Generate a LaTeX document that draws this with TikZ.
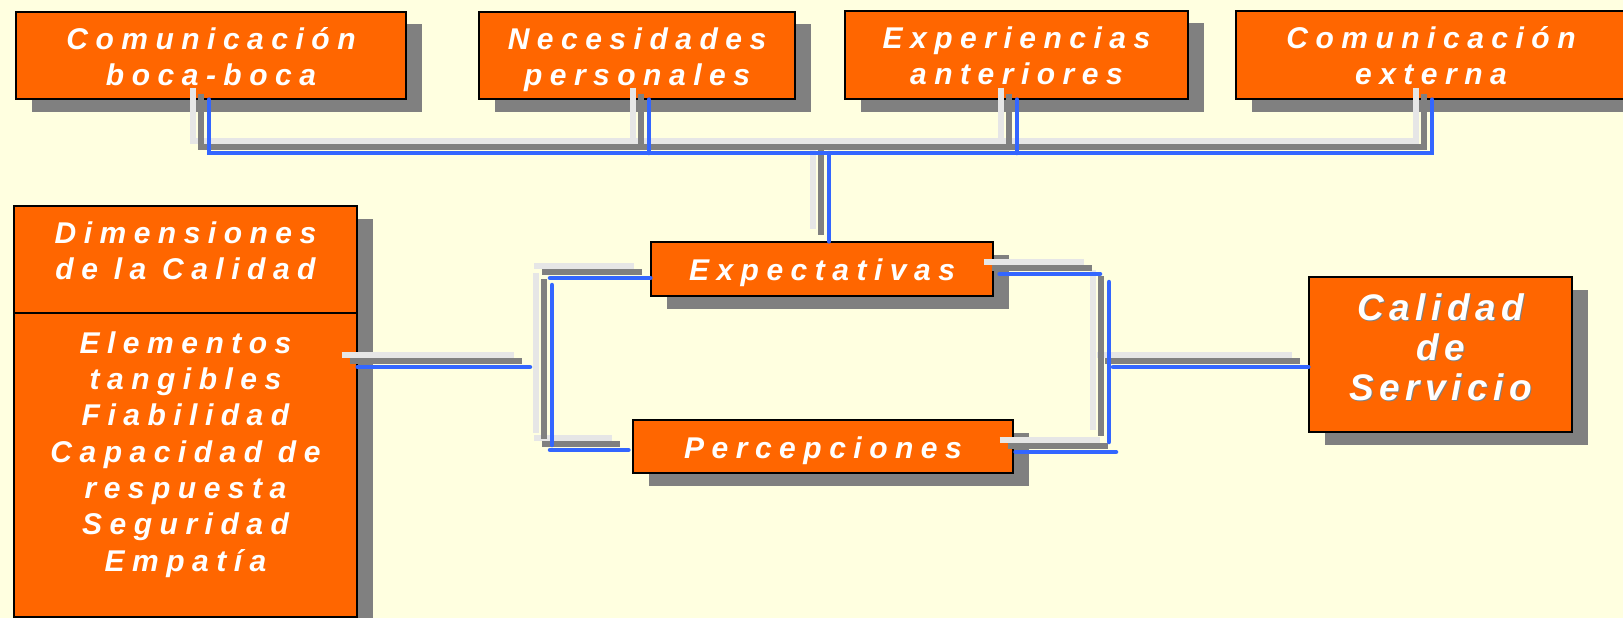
\documentclass[tikz,border=0pt]{standalone}
\usepackage{fontspec}
\usetikzlibrary{shadows}
\newfontfamily\boxfont{Liberation Sans}[LetterSpace=25]
\newfontfamily\calfont{Liberation Sans}[LetterSpace=15]
\definecolor{bgc}{HTML}{FFFFE0}
\definecolor{boxo}{HTML}{FF6600}
\definecolor{shad}{HTML}{808080}
\definecolor{lgc}{HTML}{E6E6E6}
\definecolor{blc}{HTML}{3366FF}
\newcommand\lnA{\rule{0pt}{30pt}}
\newcommand\lnB{\rule{0pt}{37pt}}
\begin{document}
\begin{tikzpicture}[x=1pt,y=-1pt,
  box/.style={draw=black, line width=1.2pt, fill=boxo, rectangle, inner sep=0pt,
    drop shadow={shadow xshift=16pt, shadow yshift=-12.5pt, fill=shad, opacity=1}},
  btxt/.style={text=white, font=\boxfont\bfseries\itshape\fontsize{30}{36}\selectfont, align=center, inner sep=0pt},
  ctxt/.style={font=\calfont\bfseries\itshape\fontsize{37}{40}\selectfont, align=center, inner sep=0pt},
  lc/.style={draw=lgc, line width=5.5pt, line cap=butt, line join=miter},
  gc/.style={draw=shad, line width=5.5pt, line cap=butt, line join=miter},
  bc/.style={draw=blc, line width=4.5pt, line cap=round, line join=miter}]
\useasboundingbox (0,0) rectangle (1623,618);
\fill[bgc] (0,0) rectangle (1623,618);
% boxes
\node[box, minimum width=390pt, minimum height=87pt] (b1) at (211,55.5) {};
\node[box, minimum width=316pt, minimum height=87pt] (b2) at (637,55.5) {};
\node[box, minimum width=343pt, minimum height=88pt] (b3) at (1016.5,55) {};
\node[box, minimum width=390pt, minimum height=88pt] (b4) at (1431,55) {};
\node[box, minimum width=342pt, minimum height=54pt] (expect) at (822,269) {};
\node[box, minimum width=380pt, minimum height=53pt] (percep) at (823,446.5) {};
\node[box, minimum width=263pt, minimum height=155pt] (calidad) at (1440.5,354.5) {};
\node[box, minimum width=343pt, minimum height=411pt] (dim) at (185.5,411.5) {};
\draw[line width=1.2pt] (dim.west |- 0,313) -- (dim.east |- 0,313);
% texts
\node[btxt, anchor=north] (b1t) at (211,19) {\lnA Comunicación\\boca-boca};
\node[btxt, anchor=north] (b2t) at (637,19) {\lnA Necesidades\\personales};
\node[btxt, anchor=north] (b3t) at (1016.5,18) {\lnA Experiencias\\anteriores};
\node[btxt, anchor=north] (b4t) at (1431,18) {\lnA Comunicación\\externa};
\node[btxt, anchor=base] (expt) at (822,280) {Expectativas};
\node[btxt, anchor=base] (pert) at (823,458) {Percepciones};
\node[btxt, anchor=north] (dimt) at (185.5,213) {\lnA Dimensiones\\de la Calidad};
\node[btxt, anchor=north, font=\boxfont\bfseries\itshape\fontsize{30}{36.3}\selectfont] (diml) at (185.5,323)
  {\lnA Elementos\\tangibles\\Fiabilidad\\Capacidad de\\respuesta\\Seguridad\\Empatía};
\node[ctxt, text=shad, anchor=north] (cals) at (1442,284.5) {\lnB Calidad\\de\\Servicio};
\node[ctxt, text=white, anchor=north] (calt) at (1440.5,283) {\lnB Calidad\\de\\Servicio};
% connector coordinates (blue line)
\coordinate (busL) at (209,153);
\coordinate (busR) at (1432,153);
\coordinate (busM) at (829,153);
\coordinate (j2) at (649,153);
\coordinate (j3) at (1017,153);
\coordinate (dimR) at (530,367);
\coordinate (lbT) at (550,278);
\coordinate (lbB) at (550,450);
\coordinate (lvT) at (552,285);
\coordinate (lvB) at (552,445);
\coordinate (rbT) at (1100,274);
\coordinate (rvT) at (1109,282);
\coordinate (rvB) at (1109,442);
\coordinate (rbB) at (1116,452);
\coordinate (rbM) at (1113,367);
\foreach \st/\dx/\dy in {lc/-16/12, gc/-8/6, bc/0/0}{
  \begin{scope}[transform canvas={shift={(\dx pt,\dy pt)}}]
    \draw[\st] (b1.south -| busL) -- (busL) -- (busR) -- (b4.south -| busR);
    \draw[\st] (b2.south -| j2) -- (j2);
    \draw[\st] (b3.south -| j3) -- (j3);
    \draw[\st] (busM) -- (expect.north -| busM);
    \draw[\st] (dim.east |- dimR) -- (dimR);
    \draw[\st] (lbT) -- (lbT -| expect.west);
    \draw[\st] (lvT) -- (lvB);
    \draw[\st] (lbB) -- ([xshift=-4pt]lbB -| percep.west);
    \draw[\st] ([xshift=6pt]rbT -| expect.east) -- (rbT);
    \draw[\st] (rvT) -- (rvB);
    \draw[\st] ([xshift=2pt]rbB -| percep.east) -- (rbB);
    \draw[\st] (rbM) -- (rbM -| calidad.west);
  \end{scope}
}
\end{tikzpicture}
\end{document}
